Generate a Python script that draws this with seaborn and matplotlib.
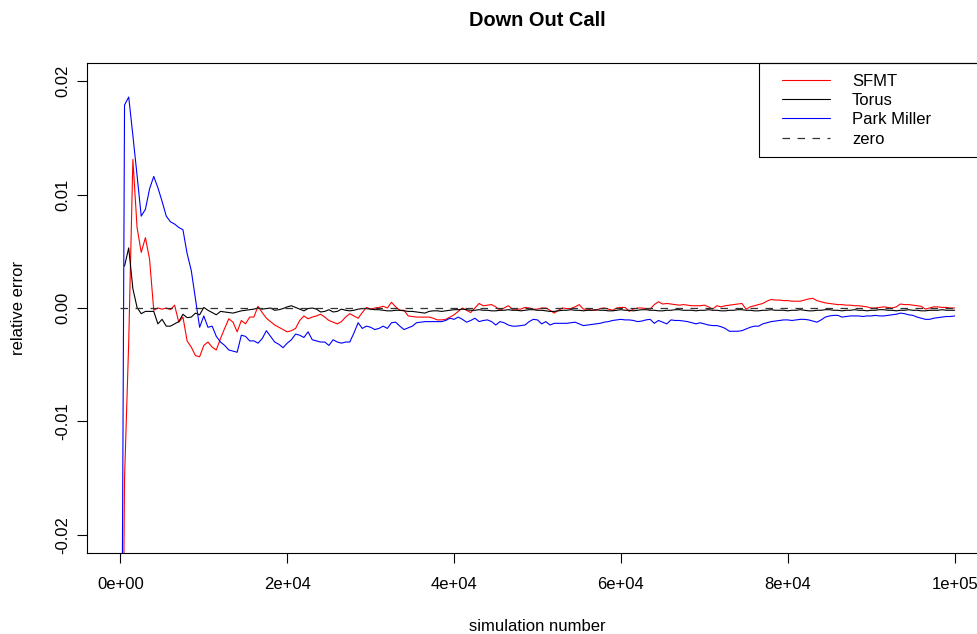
import numpy as np
import pandas as pd
import seaborn as sns
import matplotlib.pyplot as plt
from matplotlib.patches import Rectangle

# number of simulations (one point every 500)
sims = np.arange(0, 100001, 500)

# relative error, in units of 1e-3
sfmt = [-60, -15, -3.0, 13.1, 7.1, 4.9, 6.2, 4.3, -0.2, 0.0,
        -0.1, 0.0, -0.15, 0.25, -1.25, -0.8, -2.9, -3.45, -4.2, -4.3,
        -3.3, -3.0, -3.45, -3.7, -2.7, -1.8, -0.95, -1.25, -2.1, -1.1,
        -1.4, -0.8, -0.8, 0.15, -0.4, -0.9, -1.2, -1.5, -1.7, -1.9,
        -2.1, -2.0, -1.8, -1.1, -0.7, -0.95, -0.8, -0.7, -0.55, -0.8,
        -1.1, -1.25, -1.4, -1.2, -0.8, -0.5, -0.7, -0.9, -0.4, 0.05,
        -0.1, 0.0, 0.05, 0.15, 0.0, 0.5, 0.1, -0.2, -0.2, -0.7,
        -0.75, -0.8, -0.8, -0.8, -0.8, -0.9, -1.05, -1.05, -1.0, -0.8,
        -0.6, -0.3, 0.0, -0.2, -0.4, 0.0, 0.4, 0.2, 0.25, 0.3,
        0.1, -0.2, 0.0, 0.2, -0.1, -0.1, -0.1, 0.05, 0.0, -0.1,
        -0.1, 0.0, 0.0, -0.2, -0.45, -0.2, 0.0, -0.05, -0.05, 0.1,
        0.3, -0.1, -0.1, -0.2, -0.2, -0.05, 0.0, -0.1, -0.2, 0.0,
        0.05, 0.05, -0.3, -0.1, 0.0, 0.0, -0.05, -0.1, 0.3, 0.55,
        0.35, 0.4, 0.35, 0.3, 0.25, 0.3, 0.25, 0.2, 0.2, 0.2,
        0.25, 0.1, -0.1, 0.2, 0.1, 0.2, 0.25, 0.3, 0.35, 0.4,
        -0.1, 0.1, 0.2, 0.3, 0.4, 0.6, 0.75, 0.7, 0.7, 0.65,
        0.65, 0.6, 0.6, 0.6, 0.7, 0.8, 0.85, 0.65, 0.55, 0.45,
        0.4, 0.35, 0.3, 0.3, 0.25, 0.25, 0.2, 0.2, 0.15, 0.1,
        0.0, 0.0, 0.05, 0.1, 0.05, 0.0, 0.1, 0.35, 0.3, 0.3,
        0.25, 0.2, 0.15, -0.1, 0.0, 0.1, 0.1, 0.05, 0.05, 0.0,
        0.0]

# no value at 0 simulations for Torus
torus = [np.nan, 3.7, 5.3, 1.7, 0.05, -0.5, -0.3, -0.3, -0.3, -1.4,
         -1.0, -1.6, -1.6, -1.4, -1.2, -0.55, -0.85, -0.8, -0.45, -0.6,
         0.05, -0.2, -0.4, -0.6, -0.3, -0.35, -0.4, -0.45, -0.35, -0.25,
         -0.2, -0.15, -0.1, 0.0, -0.1, -0.05, 0.0, -0.2, -0.15, -0.05,
         0.1, 0.2, 0.05, -0.1, -0.25, -0.05, 0.0, -0.1, -0.35, -0.3,
         -0.15, -0.35, -0.3, -0.1, -0.2, -0.25, -0.2, -0.1, -0.05, -0.05,
         -0.1, -0.15, -0.15, -0.2, -0.25, -0.25, -0.2, -0.2, -0.25, -0.3,
         -0.3, -0.35, -0.4, -0.45, -0.3, -0.25, -0.25, -0.3, -0.25, -0.2,
         -0.15, -0.15, -0.1, -0.15, -0.2, -0.2, -0.15, -0.2, -0.2, -0.25,
         -0.25, -0.2, -0.2, -0.15, -0.2, -0.2, -0.25, -0.2, -0.15, -0.15,
         -0.2, -0.2, -0.25, -0.3, -0.3, -0.25, -0.2, -0.2, -0.15, -0.2,
         -0.2, -0.25, -0.2, -0.2, -0.15, -0.2, -0.2, -0.25, -0.25, -0.2,
         -0.15, -0.2, -0.2, -0.25, -0.2, -0.15, -0.15, -0.2, -0.2, -0.25,
         -0.25, -0.2, -0.2, -0.15, -0.15, -0.2, -0.2, -0.2, -0.25, -0.2,
         -0.2, -0.15, -0.2, -0.2, -0.25, -0.25, -0.2, -0.2, -0.15, -0.15,
         -0.2, -0.2, -0.25, -0.25, -0.2, -0.2, -0.15, -0.2, -0.2, -0.2,
         -0.25, -0.2, -0.2, -0.15, -0.2, -0.25, -0.25, -0.2, -0.2, -0.15,
         -0.15, -0.2, -0.2, -0.25, -0.2, -0.2, -0.15, -0.2, -0.2, -0.25,
         -0.2, -0.2, -0.15, -0.15, -0.2, -0.2, -0.25, -0.2, -0.2, -0.15,
         -0.2, -0.2, -0.25, -0.25, -0.2, -0.2, -0.2, -0.15, -0.2, -0.2,
         -0.2]

park_miller = [-60, 17.9, 18.6, 15.2, 11.7, 8.1, 8.7, 10.5, 11.6, 10.6,
               9.4, 8.1, 7.6, 7.4, 7.1, 6.9, 4.8, 3.3, 0.8, -1.7,
               -0.7, -1.7, -1.6, -2.5, -3.0, -3.3, -3.7, -3.8, -3.9, -2.4,
               -2.5, -2.9, -2.9, -3.1, -2.7, -2.0, -2.5, -3.0, -3.2, -3.5,
               -3.1, -2.8, -2.3, -2.4, -2.6, -2.1, -2.8, -2.9, -3.0, -3.0,
               -3.3, -2.8, -3.0, -3.1, -3.0, -3.0, -2.2, -1.3, -1.8, -1.6,
               -1.7, -1.9, -1.8, -1.6, -1.8, -1.3, -1.25, -1.6, -1.9, -1.75,
               -1.6, -1.3, -1.25, -1.2, -1.2, -1.2, -1.2, -1.2, -1.1, -0.9,
               -1.0, -0.8, -1.0, -1.25, -1.1, -0.9, -1.2, -1.1, -1.05, -1.2,
               -1.5, -1.2, -1.3, -1.5, -1.6, -1.6, -1.55, -1.5, -1.2, -1.0,
               -1.05, -1.4, -1.2, -1.5, -1.35, -1.35, -1.35, -1.35, -1.3, -1.25,
               -1.4, -1.55, -1.5, -1.45, -1.4, -1.35, -1.25, -1.2, -1.1, -1.05,
               -1.0, -1.05, -1.05, -1.1, -1.2, -1.15, -1.05, -1.0, -1.35, -1.1,
               -1.25, -1.4, -1.05, -1.1, -1.1, -1.15, -1.2, -1.3, -1.4, -1.3,
               -1.4, -1.5, -1.55, -1.55, -1.65, -1.8, -2.05, -2.05, -2.05, -2.0,
               -1.85, -1.7, -1.6, -1.6, -1.4, -1.3, -1.2, -1.15, -1.1, -1.05,
               -1.05, -1.1, -1.05, -1.0, -1.0, -1.05, -1.15, -1.25, -1.05, -0.8,
               -0.7, -0.65, -0.65, -0.8, -0.75, -0.7, -0.7, -0.7, -0.75, -0.7,
               -0.7, -0.65, -0.7, -0.7, -0.65, -0.6, -0.55, -0.45, -0.5, -0.6,
               -0.65, -0.8, -0.9, -1.0, -1.0, -0.9, -0.85, -0.8, -0.75, -0.75,
               -0.7]

zero = np.zeros(len(sims))

x_ticks = [0, 20000, 40000, 60000, 80000, 100000]
x_labels = ['0e+00', '2e+04', '4e+04', '6e+04', '8e+04', '1e+05']
y_ticks = [-0.02, -0.01, 0.0, 0.01, 0.02]
y_labels = ['-0.02', '-0.01', '0.00', '0.01', '0.02']

df = pd.DataFrame({'sims': sims,
                   'SFMT': np.array(sfmt) / 1000,
                   'Torus': np.array(torus) / 1000,
                   'Park Miller': np.array(park_miller) / 1000,
                   'zero': zero})

sns.set_theme(style='white')
plt.rcParams['font.family'] = ['Liberation Sans', 'DejaVu Sans']

fig = plt.figure(figsize=(9.77, 6.34), dpi=100)
ax = fig.add_axes([87 / 977, 1 - 553 / 634, 901 / 977, 490 / 634])

sns.lineplot(data=df, x='sims', y='SFMT', color='#ff0000', lw=0.8, label='SFMT', ax=ax)
sns.lineplot(data=df, x='sims', y='Torus', color='black', lw=0.8, label='Torus', ax=ax)
sns.lineplot(data=df, x='sims', y='Park Miller', color='#0000ff', lw=0.8, label='Park Miller', ax=ax)
sns.lineplot(data=df, x='sims', y='zero', color='#333333', lw=0.9,
             linestyle=(0, (6, 6)), label='zero', ax=ax)

ax.set_xlim(-4000, 104000)
ax.set_ylim(-0.0216, 0.0216)
ax.set_xticks(x_ticks)
ax.set_xticklabels(x_labels)
ax.set_yticks(y_ticks)
ax.set_yticklabels(y_labels, rotation=90, va='center')
ax.tick_params(axis='both', which='major', direction='out', length=7, width=0.8,
               color='black', labelsize=12, labelcolor='black', bottom=True, left=True)
ax.tick_params(axis='x', pad=10)
ax.tick_params(axis='y', pad=5)
for s in ax.spines.values():
    s.set_color('black')
    s.set_linewidth(0.8)

ax.set_xlabel('simulation number', fontsize=12, color='black', labelpad=20)
ax.set_ylabel('relative error', fontsize=12, color='black', labelpad=21)
fig.text(537 / 977, 1 - 20 / 634, 'Down Out Call', ha='center', va='center',
         fontsize=14.4, fontweight='bold', color='black')

# legend box (R style, anchored at top right of plot region)
handles, labels = ax.get_legend_handles_labels()
leg = ax.legend(handles, labels, loc='upper left', bbox_to_anchor=(782 / 977, 1 - 74 / 634),
                bbox_transform=fig.transFigure, frameon=False, fontsize=12,
                handlelength=2.9, handletextpad=1.3, labelspacing=0.25, borderpad=0,
                borderaxespad=0)
for t in leg.get_texts():
    t.set_color('black')
fig.add_artist(Rectangle((759 / 977, 1 - 157 / 634), 0.3, 94 / 634,
                         transform=fig.transFigure, fill=False, ec='black', lw=0.8))

fig.savefig('out.png', dpi=100)
